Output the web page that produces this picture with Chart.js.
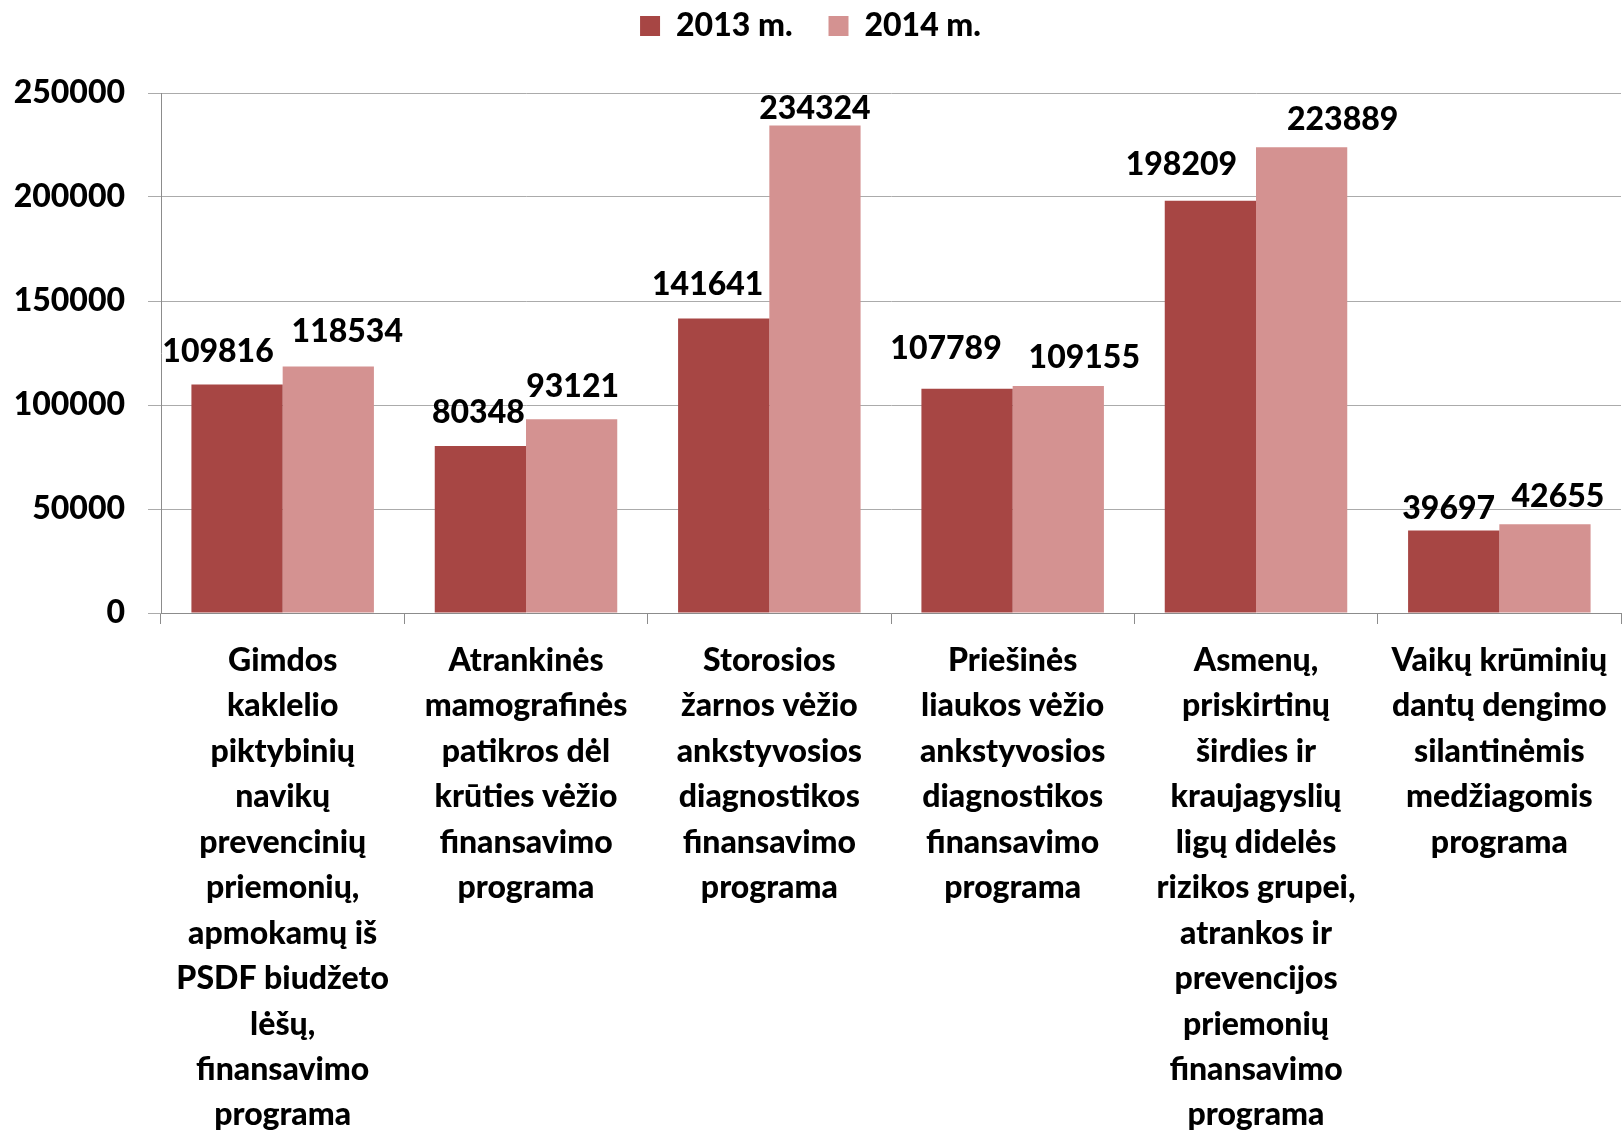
<!DOCTYPE html>
<html>
<head>
<meta charset="utf-8">
<script src="https://cdn.jsdelivr.net/npm/chart.js@4"></script>
<style>
  body { margin: 0; background: #fff; }
  #wrap { width: 1624px; height: 1136px; position: relative; }
</style>
</head>
<body>
<div id="wrap"><canvas id="chart"></canvas></div>
<script>
// programų pavadinimai (eilutėmis)
const categories = [
    ["Gimdos", "kaklelio", "piktybinių", "navikų", "prevencinių", "priemonių,", "apmokamų iš", "PSDF biudžeto", "lėšų,", "finansavimo", "programa"],
    ["Atrankinės", "mamografinės", "patikros dėl", "krūties vėžio", "finansavimo", "programa"],
    ["Storosios", "žarnos vėžio", "ankstyvosios", "diagnostikos", "finansavimo", "programa"],
    ["Priešinės", "liaukos vėžio", "ankstyvosios", "diagnostikos", "finansavimo", "programa"],
    ["Asmenų,", "priskirtinų", "širdies ir", "kraujagyslių", "ligų didelės", "rizikos grupei,", "atrankos ir", "prevencijos", "priemonių", "finansavimo", "programa"],
    ["Vaikų krūminių", "dantų dengimo", "silantinėmis", "medžiagomis", "programa"]
];
const seriesNames = ["2013 m.", "2014 m."];
const values2013 = [109816, 80348, 141641, 107789, 198209, 39697];
const values2014 = [118534, 93121, 234324, 109155, 223889, 42655];
const yTicks = [0, 50000, 100000, 150000, 200000, 250000];

const FONT = "Lato, 'Open Sans', sans-serif";

// reikšmių užrašai virš stulpelių
const valueLabels = {
    id: 'valueLabels',
    afterDatasetsDraw(chart, args, opts) {
        const ctx = chart.ctx;
        ctx.save();
        ctx.font = "900 32px " + FONT;
        ctx.fillStyle = "#000";
        ctx.textAlign = "center";
        ctx.textBaseline = "middle";
        chart.data.datasets.forEach((ds, di) => {
            const meta = chart.getDatasetMeta(di);
            meta.data.forEach((bar, i) => {
                const dx = opts.dx[di][i];
                const dy = opts.dy[di][i];
                ctx.fillText(String(ds.data[i]), bar.x + dx, bar.y - 33 + dy);
            });
        });
        ctx.restore();
    }
};

// legendos aukštis
const legendSpace = {
    id: 'legendSpace',
    beforeInit(chart) {
        const fit = chart.legend.fit;
        chart.legend.fit = function () {
            fit.bind(chart.legend)();
            this.height = 119;
        };
    }
};

const ctx = document.getElementById('chart').getContext('2d');
new Chart(ctx, {
    type: 'bar',
    data: {
        labels: categories,
        datasets: [{
            label: seriesNames[0],
            data: values2013,
            backgroundColor: '#A74644',
            categoryPercentage: 0.75,
            barPercentage: 1.0
        }, {
            label: seriesNames[1],
            data: values2014,
            backgroundColor: '#D49291',
            categoryPercentage: 0.75,
            barPercentage: 1.0
        }]
    },
    options: {
        responsive: true,
        maintainAspectRatio: false,
        animation: false,
        layout: { padding: { top: -26, right: 3, left: 0, bottom: 0 } },
        scales: {
            x: {
                grid: {
                    offset: true,
                    drawOnChartArea: false,
                    drawTicks: true,
                    tickLength: 11,
                    color: '#8c8c8c'
                },
                border: { color: '#8c8c8c' },
                ticks: {
                    autoSkip: false,
                    maxRotation: 0,
                    minRotation: 0,
                    padding: 14,
                    color: '#000',
                    font: { family: FONT, size: 32, weight: 900, lineHeight: 1.42 }
                },
                afterFit(scale) { scale.height = 523; }
            },
            y: {
                min: 0,
                max: 250000,
                afterBuildTicks(scale) { scale.ticks = yTicks.map(v => ({ value: v })); },
                grid: {
                    color: '#ababab',
                    tickLength: 13
                },
                border: { color: '#8c8c8c' },
                ticks: {
                    padding: 23,
                    color: '#000',
                    font: { family: FONT, size: 32, weight: 900 },
                    callback: (v) => String(v)
                },
                afterFit(scale) { scale.width = 161; }
            }
        },
        plugins: {
            legend: {
                position: 'top',
                labels: {
                    boxWidth: 20,
                    boxHeight: 20,
                    padding: 36,
                    color: '#000',
                    font: { family: FONT, size: 32, weight: 900 }
                }
            },
            tooltip: { enabled: false },
            valueLabels: {
                dx: [[-19, -2, -16, -21, -29, -5], [19, 1, 0, 26, 41, 13]],
                dy: [[0, 0, -1, -7, -3, 11], [-2, 0, 16, 5, 5, 5]]
            }
        }
    },
    plugins: [valueLabels, legendSpace]
});
</script>
</body>
</html>
